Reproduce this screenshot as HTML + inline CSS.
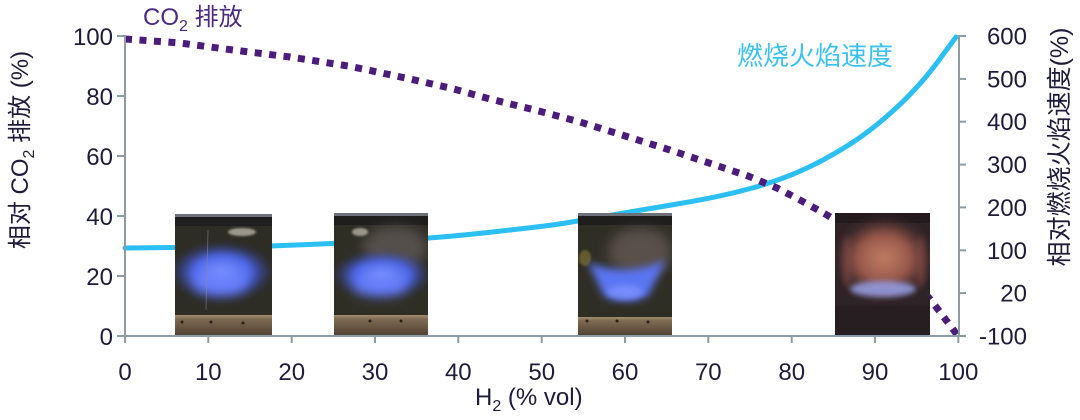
<!DOCTYPE html>
<html>
<head>
<meta charset="utf-8">
<style>
  html,body{margin:0;padding:0;background:#fff;}
  svg{display:block;}
  text{font-family:"Liberation Sans","Noto Sans CJK SC",sans-serif;}
</style>
</head>
<body>
<svg width="1080" height="420" viewBox="0 0 1080 420" xmlns="http://www.w3.org/2000/svg">
  <defs>
    <filter id="b6" x="-50%" y="-50%" width="200%" height="200%"><feGaussianBlur stdDeviation="6"/></filter>
    <filter id="b4" x="-50%" y="-50%" width="200%" height="200%"><feGaussianBlur stdDeviation="4"/></filter>
    <filter id="b3" x="-50%" y="-50%" width="200%" height="200%"><feGaussianBlur stdDeviation="3"/></filter>
    <filter id="b1" x="-50%" y="-50%" width="200%" height="200%"><feGaussianBlur stdDeviation="1"/></filter>
    <radialGradient id="blue" cx="50%" cy="50%" r="50%">
      <stop offset="0" stop-color="#7d93ff"/>
      <stop offset="0.55" stop-color="#4d66e8"/>
      <stop offset="1" stop-color="#2d3a90" stop-opacity="0"/>
    </radialGradient>
    <radialGradient id="orange" cx="50%" cy="50%" r="50%">
      <stop offset="0" stop-color="#c27e63"/>
      <stop offset="0.55" stop-color="#95564a"/>
      <stop offset="1" stop-color="#3a2428" stop-opacity="0"/>
    </radialGradient>
    <linearGradient id="brass" x1="0" y1="0" x2="0" y2="1">
      <stop offset="0" stop-color="#a48d70"/>
      <stop offset="0.2" stop-color="#7d6a52"/>
      <stop offset="1" stop-color="#4e4132"/>
    </linearGradient>
    <clipPath id="c1"><rect x="175" y="214" width="97" height="122"/></clipPath>
    <clipPath id="c2"><rect x="334" y="213" width="94" height="123"/></clipPath>
    <clipPath id="c3"><rect x="578" y="213" width="94" height="123"/></clipPath>
    <clipPath id="c4"><rect x="835" y="213" width="95" height="122"/></clipPath>
  </defs>

  <!-- curves -->
  <path fill="none" stroke="#2bbff3" stroke-width="5" stroke-linejoin="round" stroke-linecap="round"
    d="M125,248 L150,247.8 Q175,247.6 200,247.3 Q225,247 248.5,246.5 Q272,246 302.5,244.75 Q333,243.5 356.5,242.25 Q380,241 404,239.65 Q428,238.3 449,236.4 Q470,234.5 490,232.25 Q510,230 530,227.75 Q550,225.5 564,223.25 Q578,221 599,217.25 Q620,213.5 640,210.25 Q660,207 680,203.5 Q700,200 716.5,196.65 Q733,193.3 750,188.65 Q767,184 783.5,177.85 Q800,171.7 816.5,163.35 Q833,155 850,144.15 Q867,133.3 883.5,119.15 Q900,105 910,94.5 Q920,84 926.5,76.15 Q933,68.3 939,60.15 Q945,52 950.5,44.5 L956,37"/>
  <polyline fill="none" stroke="#4b1c7b" stroke-width="7" stroke-dasharray="7 7.5" stroke-linejoin="round"
    points="125,39 180,43 233,50 290,57 348,66 363,69 410,79 450,88 490,99 535,110 580,122 622,135 670,150 718,166 748,176 777,188 800,200 827,215 850,229 880,251 905,272 930,299 940,312 949,324 958,336"/>

  <!-- photo 1 -->
  <g clip-path="url(#c1)">
    <rect x="175" y="214" width="97" height="122" fill="#2e2d25"/>
    <rect x="175" y="214" width="97" height="3" fill="#6e7078"/>
    <rect x="175" y="217" width="97" height="9" fill="#1f1f20"/>
    <ellipse cx="242" cy="232" rx="14" ry="4" fill="#9b978a" filter="url(#b1)"/>
    <ellipse cx="222" cy="272" rx="52" ry="30" fill="url(#blue)" filter="url(#b3)"/>
    <ellipse cx="220" cy="283" rx="28" ry="13" fill="#6f86ff" opacity="0.7" filter="url(#b6)"/>
    <line x1="208" y1="230" x2="206" y2="310" stroke="#8e8aa0" stroke-width="1" opacity="0.5"/>
    <rect x="175" y="315" width="97" height="21" fill="url(#brass)"/>
    <circle cx="182" cy="322" r="1.5" fill="#2a2018"/>
    <circle cx="211" cy="322" r="1.5" fill="#2a2018"/>
    <circle cx="243" cy="323" r="1.5" fill="#2a2018"/>
  </g>

  <!-- photo 2 -->
  <g clip-path="url(#c2)">
    <rect x="334" y="213" width="94" height="123" fill="#2f2e25"/>
    <rect x="334" y="213" width="94" height="3" fill="#6e7078"/>
    <rect x="334" y="216" width="94" height="9" fill="#1f1e1d"/>
    <ellipse cx="360" cy="232" rx="8" ry="4" fill="#9b978a" filter="url(#b1)"/>
    <ellipse cx="395" cy="248" rx="32" ry="22" fill="#b9a6ae" opacity="0.28" filter="url(#b6)"/>
    <ellipse cx="382" cy="275" rx="50" ry="25" fill="url(#blue)" filter="url(#b3)"/>
    <ellipse cx="380" cy="286" rx="28" ry="11" fill="#6f86ff" opacity="0.7" filter="url(#b6)"/>
    <rect x="334" y="315" width="94" height="21" fill="url(#brass)"/>
    <circle cx="370" cy="321" r="1.5" fill="#2a2018"/>
    <circle cx="401" cy="321" r="1.5" fill="#2a2018"/>
  </g>

  <!-- photo 3 -->
  <g clip-path="url(#c3)">
    <rect x="578" y="213" width="94" height="123" fill="#2f2e25"/>
    <rect x="578" y="213" width="94" height="3" fill="#6e7078"/>
    <rect x="578" y="216" width="94" height="9" fill="#1f1e1d"/>
    <ellipse cx="585" cy="258" rx="6" ry="8" fill="#8a7a30" opacity="0.6" filter="url(#b1)"/>
    <ellipse cx="640" cy="252" rx="32" ry="24" fill="#a88c92" opacity="0.35" filter="url(#b6)"/>
    <path d="M588,262 Q625,278 666,260 L648,296 Q626,306 604,296 Z" fill="#5a74f2" filter="url(#b4)"/>
    <ellipse cx="625" cy="292" rx="18" ry="7" fill="#7d92ff" opacity="0.8" filter="url(#b3)"/>
    <rect x="578" y="317" width="94" height="19" fill="url(#brass)"/>
    <circle cx="587" cy="321" r="1.5" fill="#2a2018"/>
    <circle cx="617" cy="321" r="1.5" fill="#2a2018"/>
    <circle cx="648" cy="322" r="1.5" fill="#2a2018"/>
  </g>

  <!-- photo 4 -->
  <g clip-path="url(#c4)">
    <rect x="835" y="213" width="95" height="122" fill="#2e2326"/>
    <rect x="835" y="213" width="95" height="10" fill="#221a1d"/>
    <ellipse cx="884" cy="258" rx="52" ry="44" fill="url(#orange)" filter="url(#b4)"/>
    <ellipse cx="847" cy="262" rx="5" ry="26" fill="#8e4f48" opacity="0.5" filter="url(#b3)"/>
    <ellipse cx="921" cy="262" rx="5" ry="26" fill="#8e4f48" opacity="0.5" filter="url(#b3)"/>
    <ellipse cx="883" cy="289" rx="33" ry="8" fill="#959be0" opacity="0.9" filter="url(#b3)"/>
    <rect x="835" y="306" width="95" height="29" fill="#251d21" opacity="0.85"/>
  </g>

  <!-- axes -->
  <g stroke="#8b9ca6" stroke-width="2" fill="none">
    <line x1="125" y1="35" x2="125" y2="337"/>
    <line x1="959" y1="35" x2="959" y2="337"/>
    <line x1="124" y1="336" x2="960" y2="336"/>
    <line x1="117" y1="36" x2="125" y2="36"/>
    <line x1="117" y1="96" x2="125" y2="96"/>
    <line x1="117" y1="156" x2="125" y2="156"/>
    <line x1="117" y1="216" x2="125" y2="216"/>
    <line x1="117" y1="276" x2="125" y2="276"/>
    <line x1="117" y1="336" x2="125" y2="336"/>
    <line x1="959" y1="36" x2="966" y2="36"/>
    <line x1="959" y1="78.9" x2="966" y2="78.9"/>
    <line x1="959" y1="121.7" x2="966" y2="121.7"/>
    <line x1="959" y1="164.6" x2="966" y2="164.6"/>
    <line x1="959" y1="207.4" x2="966" y2="207.4"/>
    <line x1="959" y1="250.3" x2="966" y2="250.3"/>
    <line x1="959" y1="293.1" x2="966" y2="293.1"/>
    <line x1="959" y1="336" x2="966" y2="336"/>
    <line x1="125" y1="336" x2="125" y2="343"/>
    <line x1="208.3" y1="336" x2="208.3" y2="343"/>
    <line x1="291.7" y1="336" x2="291.7" y2="343"/>
    <line x1="375" y1="336" x2="375" y2="343"/>
    <line x1="458.3" y1="336" x2="458.3" y2="343"/>
    <line x1="541.7" y1="336" x2="541.7" y2="343"/>
    <line x1="625" y1="336" x2="625" y2="343"/>
    <line x1="708.3" y1="336" x2="708.3" y2="343"/>
    <line x1="791.7" y1="336" x2="791.7" y2="343"/>
    <line x1="875" y1="336" x2="875" y2="343"/>
    <line x1="958.3" y1="336" x2="958.3" y2="343"/>
  </g>

  <!-- left tick labels -->
  <g fill="#1f1c3b" font-size="24" text-anchor="end">
    <text x="113" y="45">100</text>
    <text x="113" y="105">80</text>
    <text x="113" y="165">60</text>
    <text x="113" y="225">40</text>
    <text x="113" y="285">20</text>
    <text x="113" y="345">0</text>
  </g>
  <!-- right tick labels -->
  <g fill="#1f1c3b" font-size="24" text-anchor="end">
    <text x="1027" y="44.5">600</text>
    <text x="1027" y="87.4">500</text>
    <text x="1027" y="130.2">400</text>
    <text x="1027" y="173.1">300</text>
    <text x="1027" y="215.9">200</text>
    <text x="1027" y="258.8">100</text>
    <text x="1027" y="301.6">20</text>
    <text x="1027" y="344.5">-100</text>
  </g>
  <!-- x tick labels -->
  <g fill="#1f1c3b" font-size="24" text-anchor="middle">
    <text x="125" y="380">0</text>
    <text x="208.3" y="380">10</text>
    <text x="291.7" y="380">20</text>
    <text x="375" y="380">30</text>
    <text x="458.3" y="380">40</text>
    <text x="541.7" y="380">50</text>
    <text x="625" y="380">60</text>
    <text x="708.3" y="380">70</text>
    <text x="791.7" y="380">80</text>
    <text x="875" y="380">90</text>
    <text x="958.3" y="380">100</text>
  </g>

  <!-- x axis title -->
  <text x="475" y="405" font-size="24" fill="#1f1c3b">H<tspan font-size="16" dy="6">2</tspan><tspan dy="-6"> (% vol)</tspan></text>

  <!-- series labels -->
  <text x="143" y="25" font-size="24" fill="#4b2a82">CO<tspan font-size="16" dy="6">2</tspan><tspan dy="-6" font-size="24"> 排放</tspan></text>
  <text x="737" y="65" font-size="26" fill="#3cc1f2">燃烧火焰速度</text>

  <!-- axis titles -->
  <text transform="translate(28,150) rotate(-90)" text-anchor="middle" font-size="24" fill="#1f1c3b">相对 CO<tspan font-size="16" dy="6">2</tspan><tspan dy="-6"> 排放 (%)</tspan></text>
  <text transform="translate(1068,147) rotate(-90)" text-anchor="middle" font-size="25" fill="#1f1c3b">相对燃烧火焰速度(%)</text>
</svg>
</body>
</html>
